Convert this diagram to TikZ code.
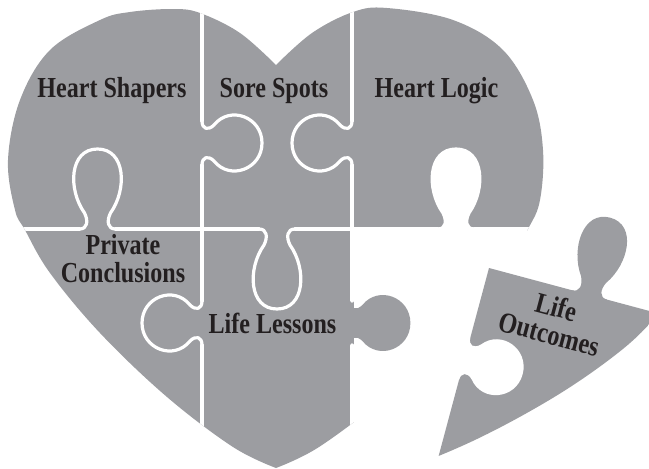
\documentclass[tikz,border=0pt]{standalone}
\usepackage{fontspec}
\setmainfont{Liberation Serif}[FakeStretch=0.83]
\usepackage{xcolor}
\usepackage{tikz}
\definecolor{puzzlegray}{RGB}{156,157,161}
\definecolor{labelink}{RGB}{35,31,32}
\def\heartpath{plot[smooth,tension=0.6] coordinates {(276,65) (240,33) (200,13) (173,9) (130,12) (100,20) (50,50) (20,100) (8,160) (15,210) (25,230) (50,273) (100,333) (167,397) (233,447) (276,468)} -- plot[smooth,tension=0.6] coordinates {(276,468) (319,447) (385,397) (452,333) (502,273) (528,229) (540,200) (543,150) (533,100) (503,50) (453,20) (387,8) (353,12) (312,33) (276,65)} -- cycle}
\def\tallknob{(-18,0) .. controls (-10,0) and (-9,-8) .. (-13,-16) .. controls (-30,-40) and (-28,-80) .. (0,-80) .. controls (28,-80) and (30,-40) .. (13,-16) .. controls (9,-8) and (10,0) .. (18,0)}
\def\wideknob{(-22,0) .. controls (-14,0) and (-12,-6) .. (-18,-12) .. controls (-38,-28) and (-26,-60) .. (0,-60) .. controls (26,-60) and (38,-28) .. (18,-12) .. controls (12,-6) and (14,0) .. (22,0)}
\tikzset{
	cut/.style={white, line width=3.2pt, line cap=round, line join=round},
	piecetext/.style={text=labelink, font=\bfseries\fontsize{29}{28}\selectfont, align=center, inner sep=0pt}
}

\begin{document}
\begin{tikzpicture}[x=1pt,y=-1pt]
	\useasboundingbox (0,0) rectangle (649,469);
	\begin{scope}
		\clip \heartpath;
		\fill[puzzlegray] (0,0) rectangle (649,469);
		\draw[cut] (202,0) -- (202,121) (202,165) -- (202,301) (202,345) -- (202,469);
		\draw[cut] (352,0) -- (352,121) (352,165) -- (352,301) (352,345) -- (352,469);
		\draw[cut] (0,229) -- (79.5,229) (115.5,229) -- (259,229) (295,229) -- (438,229) (474,229) -- (649,229);
		\foreach \x/\y/\r in {97.5/229/0, 277/229/180, 456/229/0}
			\draw[cut, shift={(\x,\y)}, rotate=\r] \tallknob;
		\foreach \x/\y/\r in {202/143/-90, 352/143/90, 202/323/90}
			\draw[cut, shift={(\x,\y)}, rotate=\r] \wideknob;
	\end{scope}
	\fill[white] (353.6,230.6) rectangle (649,469);
	\fill[white, shift={(456,229)}] \tallknob -- (18,4) -- (-18,4) -- cycle;
	\fill[puzzlegray, shift={(350.4,323)}, rotate=-90] \wideknob -- (22,4) -- (-22,4) -- cycle;
	\begin{scope}[shift={(137,39)}, rotate around={-15:(352,229)}]
		\begin{scope}
			\clip \heartpath;
			\fill[puzzlegray] (352,229) rectangle (649,469);
			\fill[puzzlegray, shift={(456,229)}] \tallknob -- (18,4) -- (-18,4) -- cycle;
			\fill[white, shift={(352,323)}, rotate=-90] \wideknob -- (22,4) -- (-22,4) -- cycle;
		\end{scope}
		\node[piecetext, transform shape] (outcomes) at (427,263) {Life\\Outcomes};
	\end{scope}
	\node[piecetext, anchor=base] (shapers) at (112,97) {Heart Shapers};
	\node[piecetext, anchor=base] (sore) at (274,97) {Sore Spots};
	\node[piecetext, anchor=base] (logic) at (436.5,97) {Heart Logic};
	\node[piecetext] (private) at (123,259) {Private\\Conclusions};
	\node[piecetext, anchor=base] (lessons) at (272.5,333) {Life Lessons};
\end{tikzpicture}
\end{document}
